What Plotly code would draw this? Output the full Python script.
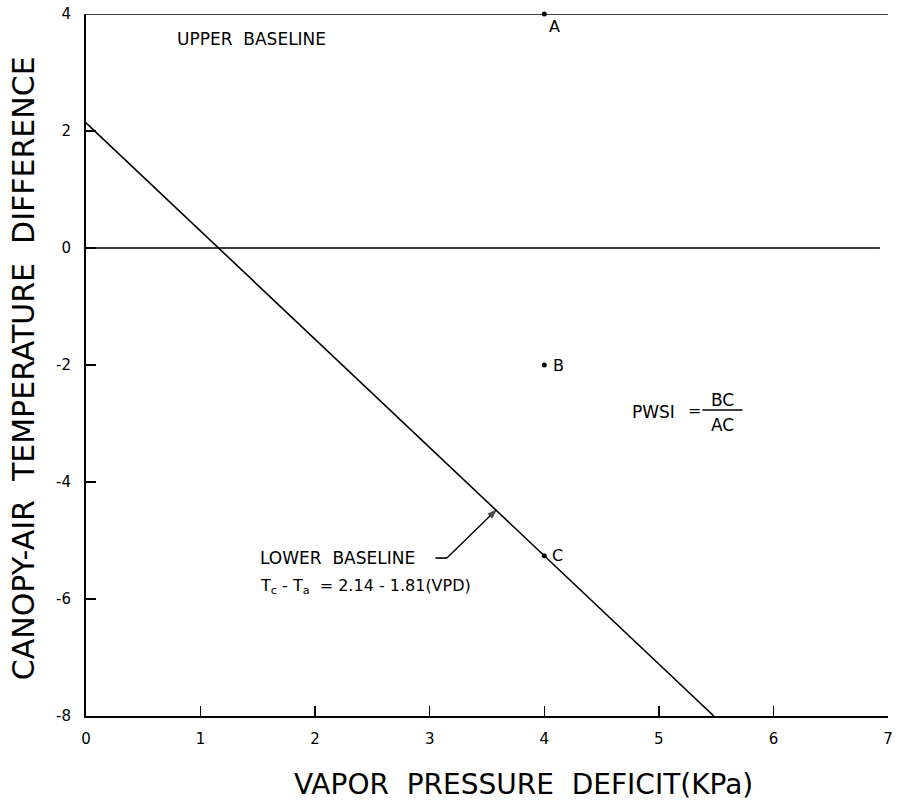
import plotly.graph_objects as go

# Data
lower_x = [0.0, 5.48]
lower_y = [2.14, -8.0]
upper_x = [0.0, 7.0]
upper_y = [4.0, 4.0]
zero_x = [0.0, 6.93]
zero_y = [0.0, 0.0]
pt_labels = ["A", "B", "C"]
pt_x = [4.0, 4.0, 4.0]
pt_y = [4.0, -2.0, -5.26]
leader_x = [3.05, 3.15]
leader_y = [-5.3, -5.3]
arrow_x = [3.15, 3.59]
arrow_y = [-5.3, -4.46]
x_ticks = [0, 1, 2, 3, 4, 5, 6, 7]
y_ticks = [4, 2, 0, -2, -4, -6, -8]

FONT = "DejaVu Sans"
BLACK = "black"
fig = go.Figure()
line_style = dict(color=BLACK, width=1.6)
for xs, ys in [(lower_x, lower_y), (upper_x, upper_y), (zero_x, zero_y), (leader_x, leader_y)]:
    fig.add_trace(go.Scatter(x=xs, y=ys, mode="lines", line=line_style,
                             hoverinfo="skip", showlegend=False, cliponaxis=False))

# arrow pointing to lower baseline
fig.add_trace(go.Scatter(x=arrow_x, y=arrow_y, mode="lines+markers",
                         line=dict(color=BLACK, width=1.4),
                         marker=dict(symbol=["circle", "arrow"], size=[0, 11],
                                     angleref="previous", color=BLACK,
                                     line=dict(width=0)),
                         hoverinfo="skip", showlegend=False, cliponaxis=False))

fig.add_trace(go.Scatter(x=pt_x, y=pt_y, mode="markers",
                         marker=dict(color=BLACK, size=5),
                         showlegend=False, cliponaxis=False))

lbl_font = dict(family=FONT, size=16, color=BLACK)
big_font = dict(family=FONT, size=17, color=BLACK)
# point labels
offsets = {"A": (0.09, -0.22), "B": (0.06, 0.0), "C": (0.05, 0.0)}
for lab, xv, yv in zip(pt_labels, pt_x, pt_y):
    dx, dy = offsets[lab]
    fig.add_annotation(x=xv + dx, y=yv + dy, text=lab, showarrow=False,
                       xanchor="left" if lab != "A" else "center",
                       font=lbl_font)

fig.add_annotation(x=0.775, y=3.57, text="UPPER  BASELINE", showarrow=False,
                   xanchor="left", font=big_font)
fig.add_annotation(x=1.5, y=-5.3, text="LOWER  BASELINE", showarrow=False,
                   xanchor="left", font=big_font)
fig.add_annotation(x=1.5, y=-5.78,
                   text="T<sub>c</sub> - T<sub>a</sub>  = 2.14 - 1.81(VPD)",
                   showarrow=False, xanchor="left", font=lbl_font)
# PWSI formula
fig.add_annotation(x=4.75, y=-2.80, text="PWSI", showarrow=False, xanchor="left",
                   font=big_font)
fig.add_annotation(x=5.31, y=-2.78, text="=", showarrow=False, font=lbl_font)
fig.add_annotation(x=5.555, y=-2.60, text="BC", showarrow=False, font=big_font)
fig.add_annotation(x=5.555, y=-3.02, text="AC", showarrow=False, font=big_font)
fig.add_shape(type="line", x0=5.38, x1=5.73, y0=-2.77, y1=-2.77,
              line=dict(color=BLACK, width=1.4))

# axis titles as annotations
fig.add_annotation(xref="paper", yref="paper", x=0.545, y=-0.098,
                   text="VAPOR  PRESSURE  DEFICIT(KPa)", showarrow=False,
                   xanchor="center", yanchor="middle",
                   font=dict(family=FONT, size=28, color=BLACK))
fig.add_annotation(xref="paper", yref="paper", x=-0.078, y=0.496,
                   text="CANOPY-AIR  TEMPERATURE  DIFFERENCE", showarrow=False,
                   textangle=-90, xanchor="center", yanchor="middle",
                   font=dict(family=FONT, size=30, color=BLACK))

fig.update_layout(
    width=912, height=805,
    margin=dict(l=86, r=24, t=14, b=89),
    paper_bgcolor="white", plot_bgcolor="white",
    hovermode=False,
    font=dict(family=FONT, color=BLACK),
    xaxis=dict(range=[0, 7], tickvals=x_ticks, ticktext=[str(v) for v in x_ticks],
               showgrid=False, zeroline=False, showline=True, linecolor=BLACK,
               linewidth=2, ticks="inside", ticklen=10, tickwidth=1.5, tickcolor=BLACK,
               tickfont=dict(family=FONT, size=15), ticklabelstandoff=8,
               ticklabeloverflow="allow", automargin=False),
    yaxis=dict(range=[-8, 4], tickvals=y_ticks, ticktext=[str(v) for v in y_ticks],
               showgrid=False, zeroline=False, showline=True, linecolor=BLACK,
               linewidth=2, ticks="inside", ticklen=10, tickwidth=1.5, tickcolor=BLACK,
               tickfont=dict(family=FONT, size=15), ticklabelstandoff=10,
               ticklabeloverflow="allow", automargin=False),
)
# remove the default 8px page margin so the figure fills the window exactly
fig.write_html("out.html", config={"displayModeBar": False, "staticPlot": True},
               post_script="document.body.style.margin='0';document.body.style.overflow='hidden';")
